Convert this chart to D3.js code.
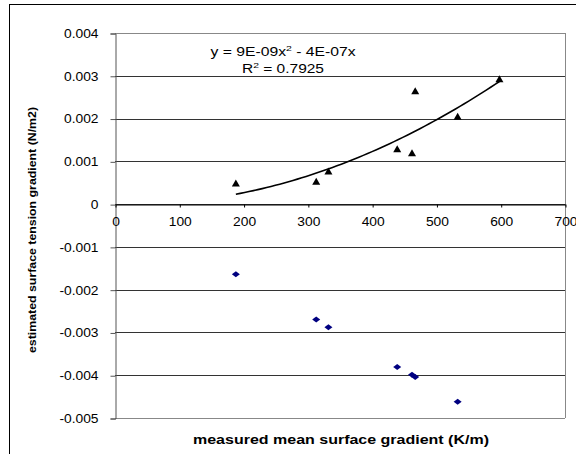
<!DOCTYPE html>
<html lang="en">
<head>
<meta charset="UTF-8">
<title>Surface tension gradient</title>
<script src="https://d3js.org/d3.v7.min.js"></script>
<style>
    body { margin: 0; background: #fff; font-family: "Liberation Sans", Arial, sans-serif; }
    svg text { fill: #000; }
</style>
</head>
<body>
<script>
// measured mean surface gradient (K/m)
const xMeasured = [188, 313, 332, 439, 462, 467, 533, 598];
// estimated surface tension gradient, triangles (N/m2)
const yTriangle = [0.00048, 0.00052, 0.00076, 0.00128, 0.00119, 0.00264, 0.00204, 0.00292];
// second series, diamonds
const xDiamond = [188, 313, 332, 439, 462, 467, 533];
const yDiamond = [-0.00164, -0.00270, -0.00288, -0.00381, -0.00399, -0.00404, -0.00462];

const xTicks = [0, 100, 200, 300, 400, 500, 600, 700];
const yTicks = [0.004, 0.003, 0.002, 0.001, 0, -0.001, -0.002, -0.003, -0.004, -0.005];
const yTickLabels = ["0.004", "0.003", "0.002", "0.001", "0", "-0.001", "-0.002", "-0.003", "-0.004", "-0.005"];

const width = 576, height = 454;
const plotLeft = 115, plotRight = 565, plotTop = 33, plotBottom = 418;
const stretch = 1.15; // the original text is a bit wide

const svg = d3.select("body").append("svg")
    .attr("width", width).attr("height", height);

// widen a text element horizontally
function widen(sel) {
    sel.each(function() {
        const w = this.getComputedTextLength();
        d3.select(this).attr("textLength", w * stretch).attr("lengthAdjust", "spacingAndGlyphs");
    });
}

// outer chart border
svg.append("rect")
    .attr("x", 9.5).attr("y", 4.5)
    .attr("width", width).attr("height", height)
    .attr("fill", "none").attr("stroke", "#000");

const x = d3.scaleLinear().domain([0, 700]).range([plotLeft, plotRight]);
const y = d3.scaleLinear().domain([-0.005, 0.004]).range([plotBottom, plotTop]);

// gridlines
svg.append("g").selectAll("line")
    .data(yTicks)
    .enter().append("line")
    .attr("x1", plotLeft).attr("x2", plotRight)
    .attr("y1", d => Math.round(y(d)) + 0.5)
    .attr("y2", d => Math.round(y(d)) + 0.5)
    .attr("stroke", d => (d === 0.004 || d === -0.005) ? "#888" : "#333");

// right border of plot area
svg.append("line")
    .attr("x1", plotRight + 0.5).attr("x2", plotRight + 0.5)
    .attr("y1", plotTop).attr("y2", plotBottom)
    .attr("stroke", "#888");

// y axis
const yAxis = d3.axisLeft(y).tickValues(yTicks)
    .tickFormat((d, i) => yTickLabels[i]).tickSize(5).tickPadding(12);
const gy = svg.append("g")
    .attr("transform", `translate(${plotLeft + 0.5},0.5)`)
    .call(yAxis);
gy.select(".domain").attr("stroke", "#555");
gy.selectAll(".tick line").attr("stroke", "#555");
gy.selectAll("text").attr("font-size", 12).attr("font-family", "Liberation Sans, Arial, sans-serif").call(widen);

// x axis along zero line
const xAxis = d3.axisBottom(x).tickValues(xTicks).tickSize(3).tickPadding(10).tickSizeOuter(0);
const gx = svg.append("g")
    .attr("transform", `translate(0.5,${Math.round(y(0)) + 0.5})`)
    .call(xAxis);
gx.select(".domain").attr("stroke", "#000");
gx.selectAll(".tick line").attr("stroke", "#000");
gx.selectAll("text").attr("font-size", 12).attr("font-family", "Liberation Sans, Arial, sans-serif").call(widen);

// quadratic trendline through origin, least squares on triangle series
let s4 = 0, s3 = 0, s2 = 0, sx2y = 0, sxy = 0;
xMeasured.forEach((xi, i) => {
    const yi = yTriangle[i];
    s4 += xi ** 4; s3 += xi ** 3; s2 += xi ** 2;
    sx2y += xi * xi * yi; sxy += xi * yi;
});
const det = s4 * s2 - s3 * s3;
const a = (sx2y * s2 - s3 * sxy) / det;
const b = (s4 * sxy - s3 * sx2y) / det;
const xMin = d3.min(xMeasured), xMax = d3.max(xMeasured);
const trend = d3.range(0, 61).map(i => {
    const xv = xMin + (xMax - xMin) * i / 60;
    return [xv, a * xv * xv + b * xv];
});
svg.append("path")
    .datum(trend)
    .attr("fill", "none").attr("stroke", "#000").attr("stroke-width", 1.6)
    .attr("d", d3.line().x(d => x(d[0])).y(d => y(d[1])));

// triangles
svg.append("g").selectAll("path")
    .data(xMeasured.map((d, i) => [d, yTriangle[i]]))
    .enter().append("path")
    .attr("transform", d => `translate(${x(d[0])},${y(d[1])})`)
    .attr("d", "M0,-4L4,3L-4,3Z")
    .attr("fill", "#000");

// diamonds
svg.append("g").selectAll("path")
    .data(xDiamond.map((d, i) => [d, yDiamond[i]]))
    .enter().append("path")
    .attr("transform", d => `translate(${x(d[0])},${y(d[1])})`)
    .attr("d", "M0,-3L4,0L0,3L-4,0Z")
    .attr("fill", "#000080");

// equation labels
const eq = svg.append("text")
    .attr("x", 283).attr("y", 55.5)
    .attr("text-anchor", "middle").attr("font-size", 12)
    .attr("textLength", 145).attr("lengthAdjust", "spacingAndGlyphs");
eq.append("tspan").text("y = 9E-09x");
eq.append("tspan").attr("font-size", 8).attr("dy", -5).text("2");
eq.append("tspan").attr("dy", 5).text(" - 4E-07x");

const r2 = svg.append("text")
    .attr("x", 283).attr("y", 72.5)
    .attr("text-anchor", "middle").attr("font-size", 12)
    .attr("textLength", 82).attr("lengthAdjust", "spacingAndGlyphs");
r2.append("tspan").text("R");
r2.append("tspan").attr("font-size", 8).attr("dy", -5).text("2");
r2.append("tspan").attr("dy", 5).text(" = 0.7925");

// axis titles
svg.append("text")
    .attr("x", 341).attr("y", 444)
    .attr("text-anchor", "middle")
    .attr("font-size", 12.5).attr("font-weight", "bold")
    .attr("textLength", 296).attr("lengthAdjust", "spacingAndGlyphs")
    .text("measured mean surface gradient (K/m)");

svg.append("text")
    .attr("transform", "translate(36,230) rotate(-90)")
    .attr("text-anchor", "middle")
    .attr("font-size", 10.5).attr("font-weight", "bold")
    .attr("textLength", 246).attr("lengthAdjust", "spacingAndGlyphs")
    .text("estimated surface tension gradient (N/m2)");
</script>
</body>
</html>
